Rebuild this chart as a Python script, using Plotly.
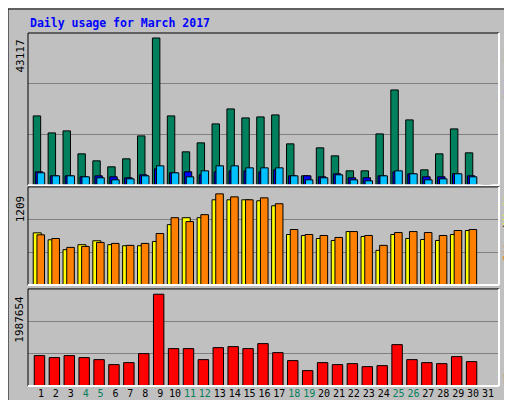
import plotly.graph_objects as go

days = list(range(1, 32))
weekend = [4, 5, 11, 12, 18, 19, 25, 26]
hits = [20290, 15316, 15900, 9170, 7121, 5365, 7707, 14437, 43117, 20290, 9755, 12389, 17949, 22339,
        19705, 19998, 20583, 12096, 2731, 10926, 8584, 4195, 4195, 15023, 27899, 19120, 4487, 9170, 16486, 9462, 0]
files = [3900, 2730, 2730, 2440, 2730, 2440, 2150, 3020, 4780, 3610, 3900, 3020, 3900, 4190, 4190, 3900,
         4490, 2730, 2730, 2440, 3320, 2150, 2150, 2730, 3900, 3320, 2440, 2440, 3320, 2730, 0]
pages = [3610, 2730, 2730, 2440, 2150, 1560, 1850, 2730, 5660, 3610, 2440, 4190, 5660, 5660, 5070, 5070,
         5070, 2730, 1560, 2150, 3020, 1560, 1270, 2730, 4190, 3320, 1560, 1850, 3320, 2440, 0]
sites = [692, 600, 469, 535, 587, 535, 521, 521, 578, 801, 893, 893, 1130, 1130, 1130, 1117, 1051,
         670, 657, 617, 591, 709, 644, 460, 670, 617, 604, 591, 670, 723, 0]
visits = [666, 617, 499, 512, 565, 552, 526, 552, 683, 893, 841, 933, 1209, 1169, 1130, 1156, 1078,
          736, 670, 657, 631, 709, 657, 526, 696, 709, 696, 657, 723, 736, 0]
kbytes = [658000, 615000, 658000, 615000, 571000, 463000, 506000, 701000, 1987654, 810000, 810000,
          571000, 831000, 853000, 810000, 918000, 723000, 550000, 333000, 506000, 463000, 484000,
          419000, 441000, 896000, 571000, 506000, 484000, 636000, 528000, 0]

BG = "#C0C0C0"
mono = "DejaVu Sans Mono"
line = dict(color="black", width=1)
fig = go.Figure()

def bar(y, color, ax, off, w):
    fig.add_trace(go.Bar(x=days, y=y, marker=dict(color=color, line=line), offset=off, width=w,
                         xaxis="x", yaxis=ax, showlegend=False, hoverinfo="skip"))

bar(hits, "#00805C", "y", -0.52, 0.5)
bar(files, "#0000FF", "y", -0.38, 0.5)
bar(pages, "#00C0FF", "y", -0.25, 0.5)
bar(sites, "#FFFF00", "y2", -0.52, 0.54)
bar(visits, "#FF8000", "y2", -0.27, 0.51)
bar(kbytes, "#FF0000", "y3", -0.45, 0.7)

rtop, rmid, rbot = 44583, 1301, 2102500
def yax(dom, r):
    return dict(domain=dom, range=[0, r], tickvals=[r / 3, 2 * r / 3], showticklabels=False, automargin=False,
                showgrid=True, gridcolor="#808080", gridwidth=1, zeroline=False, fixedrange=True, ticks="")

ticktext = [f'<span style="color:#00805C">{d}</span>' if d in weekend else str(d) for d in days]
fig.update_layout(
    width=512, height=400, margin=dict(l=20, r=21, t=25, b=22, autoexpand=False),
    paper_bgcolor=BG, plot_bgcolor=BG, barmode="overlay",
    font=dict(family=mono, size=11, color="black"),
    xaxis=dict(range=[0.13, 31.74], tickvals=days, ticktext=ticktext, showgrid=False, zeroline=False,
               ticks="", tickangle=0, automargin=False, tickfont=dict(family=mono, size=10), anchor="y3"),
    yaxis=yax([0.569, 1.0], rtop),
    yaxis2=yax([0.286, 0.564], rmid),
    yaxis3=yax([0.0, 0.275], rbot),
)

shapes = []
shapes.append(dict(type="rect", xref="paper", yref="paper", x0=-20/471, x1=1 + 20/471, y0=-21/353, y1=1 + 24/353,
                   line=dict(color="black", width=1)))
shapes.append(dict(type="line", xref="paper", yref="paper", x0=-18/471, x1=1 + 17/471, y0=-18/353, y1=-18/353,
                   line=dict(color="#808080", width=3)))
shapes.append(dict(type="line", xref="paper", yref="paper", x0=1 + 17/471, x1=1 + 17/471, y0=-18/353, y1=1 + 22/353,
                   line=dict(color="#808080", width=3)))
for y0, y1 in [(0.569, 1.0), (0.286, 0.564), (0.0, 0.275)]:
    shapes.append(dict(type="line", xref="paper", yref="paper", x0=0, x1=0, y0=y0, y1=y1, line=dict(color="black", width=1)))
    shapes.append(dict(type="line", xref="paper", yref="paper", x0=0, x1=1, y0=y1, y1=y1, line=dict(color="black", width=1)))
    shapes.append(dict(type="line", xref="paper", yref="paper", x0=1, x1=1, y0=y0, y1=y1, line=dict(color="white", width=2)))
    shapes.append(dict(type="line", xref="paper", yref="paper", x0=0, x1=1, y0=y0, y1=y0, line=dict(color="white", width=2)))
fig.update_layout(shapes=shapes)

rx = 1 + 9/471
ann = [
    dict(text="<b>Daily usage for March 2017</b>", xref="paper", yref="paper", x=0, y=1 + 10/353,
         xanchor="left", yanchor="middle", showarrow=False, font=dict(family=mono, size=11.5, color="#0000FF")),
    dict(text="43117", xref="paper", yref="y", x=-8/471, y=43117, textangle=-90, xanchor="center", yanchor="top",
         showarrow=False, font=dict(family=mono, size=11)),
    dict(text="1209", xref="paper", yref="y2", x=-8/471, y=1209, textangle=-90, xanchor="center", yanchor="top",
         showarrow=False, font=dict(family=mono, size=11)),
    dict(text="1987654", xref="paper", yref="y3", x=-8/471, y=1987654, textangle=-90, xanchor="center", yanchor="top",
         showarrow=False, font=dict(family=mono, size=11)),
    dict(text='<span style="color:#00C0FF">Pages</span>/<span style="color:#0000FF">Files</span>/<span style="color:#00805C">Hits</span>',
         xref="paper", yref="paper", x=rx, y=1.0, textangle=-90, xanchor="center", yanchor="top",
         showarrow=False, font=dict(family=mono, size=10)),
    dict(text='<span style="color:#FF8000">Sites</span>/<span style="color:#FFFF00">Visits</span>',
         xref="paper", yref="paper", x=rx, y=0.564, textangle=-90, xanchor="center", yanchor="top",
         showarrow=False, font=dict(family=mono, size=10)),
    dict(text='<span style="color:#FF0000">KBytes</span>',
         xref="paper", yref="paper", x=rx, y=0.0, textangle=-90, xanchor="center", yanchor="bottom",
         showarrow=False, font=dict(family=mono, size=10)),
]
fig.update_layout(annotations=ann)
fig.write_html("out.html")
